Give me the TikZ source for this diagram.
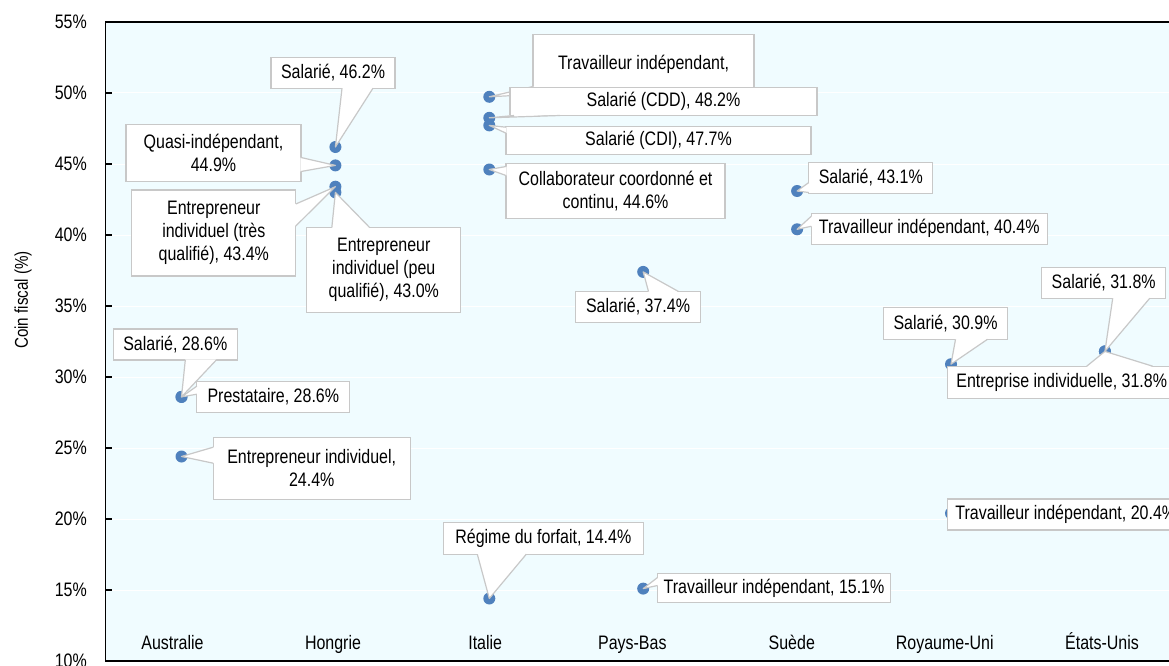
\documentclass[tikz,border=0pt]{standalone}
\usepackage{fontspec}
\setmainfont[FakeStretch=0.82]{Liberation Sans}
\usepackage{tikz}

\definecolor{plotbg}{RGB}{240,252,255}
\definecolor{dotblue}{RGB}{79,129,189}
\definecolor{boxgray}{RGB}{200,200,200}

% callout wedge: box, dot, anchor, shift a, shift b, inward shift
\newcommand{\callout}[6]{%
  \fill[white] ([shift={(#4)},shift={(#6)}]#1.#3) -- (#2.center) -- ([shift={(#5)},shift={(#6)}]#1.#3) -- cycle;
  \draw[lead] ([shift={(#4)}]#1.#3) -- (#2.center) -- ([shift={(#5)}]#1.#3);}

\begin{document}
\begin{tikzpicture}[x=1pt,y=-1pt,
  lbl/.style={draw=boxgray, fill=white, line width=1.2pt, inner sep=0pt, outer sep=0pt, align=center, font=\fontsize{19.5}{23}\selectfont},
  obs/.style={circle, fill=dotblue, minimum size=12pt, inner sep=0pt},
  lead/.style={boxgray, line width=1.2pt, line join=round},
  ticklbl/.style={anchor=east, inner sep=0pt, font=\fontsize{19.5}{23}\selectfont},
  catlbl/.style={anchor=base, inner sep=0pt, font=\fontsize{19.5}{23}\selectfont}]
  \clip (0,0) rectangle (1169,666);
  \fill[white] (0,0) rectangle (1169,666);
  \fill[plotbg] (105.5,22) rectangle (1182,661);

  \foreach \v in {15,20,...,50}
    \draw[white, line width=1pt] (105.5,{22+(55-\v)*14.2}) -- (1182,{22+(55-\v)*14.2});
  \foreach \v in {10,15,...,55} {
    \draw[black, line width=1.2pt] (105.5,{22+(55-\v)*14.2}) -- (112,{22+(55-\v)*14.2});
    \node[ticklbl] (tk\v) at (87,{22+(55-\v)*14.2}) {\v\%};
  }
  \draw[black, line width=1.5pt] (105.5,22) rectangle (1182,661);

  \foreach \x/\c [count=\i] in {172.5/Australie, 333/Hongrie, 485.2/Italie, 632.3/Pays-Bas, 791.8/Suède, 944.7/Royaume-Uni, 1102/États-Unis}
    \node[catlbl] (cat\i) at (\x,649) {\c};
  \node[rotate=90, inner sep=0pt, font=\fontsize{18.5}{22}\selectfont] (ytitle) at (23,300) {Coin fiscal (\%)};

  % points
  \node[obs] (da1) at (181.5,396.9) {};
  \node[obs] (da2) at (181.5,396.9) {};
  \node[obs] (da3) at (181.5,456.5) {};
  \node[obs] (dh1) at (335.4,147.0) {};
  \node[obs] (dh2) at (335.4,165.4) {};
  \node[obs] (dh3) at (335.4,186.7) {};
  \node[obs] (dh4) at (335.4,192.4) {};
  \node[obs] (di1) at (489.3,96.8) {};
  \node[obs] (di2) at (489.3,117.8) {};
  \node[obs] (di3) at (489.3,125.4) {};
  \node[obs] (di4) at (489.3,169.5) {};
  \node[obs] (di5) at (489.3,598.5) {};
  \node[obs] (dp1) at (643.2,271.9) {};
  \node[obs] (dp2) at (643.2,588.6) {};
  \node[obs] (ds1) at (797.1,191.0) {};
  \node[obs] (ds2) at (797.1,229.3) {};
  \node[obs] (dr1) at (951.0,364.2) {};
  \node[obs] (dr2) at (951.0,513.3) {};
  \node[obs] (du1) at (1104.9,351.4) {};
  \node[obs] (du2) at (1104.9,351.4) {};

  % labels
  \node[lbl, minimum width=124pt, minimum height=31pt] (la1) at (175.3,344.5) {Salarié, 28.6\%};
  \callout{la1}{da1}{south west}{72,0}{103,0}{0,-0.7}
  \node[lbl, minimum width=153pt, minimum height=31pt] (la2) at (273.3,396.7) {Prestataire, 28.6\%};
  \callout{la2}{da2}{north west}{0,5}{0,13}{0.7,0}
  \node[lbl, minimum width=197pt, minimum height=62pt] (la3) at (311.7,468.2) {Entrepreneur individuel,\\24.4\%};
  \callout{la3}{da3}{north west}{0,10}{0,26}{0.7,0}

  \node[lbl, minimum width=124pt, minimum height=31pt] (lh1) at (333,72.7) {Salarié, 46.2\%};
  \callout{lh1}{dh1}{south west}{71,0}{102,0}{0,-0.7}
  \node[lbl, minimum width=175pt, minimum height=57pt] (lh2) at (213.5,153) {Quasi-indépendant,\\44.9\%};
  \callout{lh2}{dh2}{north east}{0,33}{0,47}{-0.7,0}
  \node[lbl, minimum width=164pt, minimum height=86pt] (lh3) at (213.8,233) {Entrepreneur\\individuel (très\\qualifié), 43.4\%};
  \callout{lh3}{dh3}{north east}{0,14}{0,36}{-0.7,0}
  \node[lbl, minimum width=154pt, minimum height=85pt] (lh4) at (383.8,270.2) {Entrepreneur\\individuel (peu\\qualifié), 43.0\%};
  \callout{lh4}{dh4}{north west}{25,0}{63,0}{0,0.7}

  \node[lbl, minimum width=221pt, minimum height=78pt] (li1) at (643.5,73.5) {Travailleur indépendant,\\\mbox{}};
  \callout{li1}{di1}{north west}{0,52}{0,60}{0.7,0}
  \node[lbl, minimum width=307pt, minimum height=28pt] (li2) at (663.5,101.5) {Salarié (CDD), 48.2\%};
  \callout{li2}{di2}{south west}{4,0}{50,0}{0,-0.7}
  \node[lbl, minimum width=305pt, minimum height=28pt] (li3) at (658.5,140.2) {Salarié (CDI), 47.7\%};
  \callout{li3}{di3}{north west}{0,1}{0,7}{0.7,0}
  \node[lbl, minimum width=219pt, minimum height=55pt] (li4) at (615.5,191) {Collaborateur coordonné et\\continu, 44.6\%};
  \callout{li4}{di4}{north west}{0,3}{0,12}{0.7,0}
  \node[lbl, minimum width=200pt, minimum height=32pt] (li5) at (543.3,538.2) {Régime du forfait, 14.4\%};
  \callout{li5}{di5}{south west}{34,0}{83,0}{0,-0.7}

  \node[lbl, minimum width=125pt, minimum height=31pt] (lp1) at (638,307) {Salarié, 37.4\%};
  \callout{lp1}{dp1}{north west}{73,0}{103,0}{0,0.7}
  \node[lbl, minimum width=233pt, minimum height=29pt] (lp2) at (774,588) {Travailleur indépendant, 15.1\%};
  \callout{lp2}{dp2}{north west}{0,4}{0,12}{0.7,0}

  \node[lbl, minimum width=124pt, minimum height=31pt] (ls1) at (870.8,178) {Salarié, 43.1\%};
  \callout{ls1}{ds1}{north west}{0,20}{0,30}{0.7,0}
  \node[lbl, minimum width=236pt, minimum height=31pt] (ls2) at (929.2,228.8) {Travailleur indépendant, 40.4\%};
  \callout{ls2}{ds2}{north west}{0,3}{0,13}{0.7,0}

  \node[lbl, minimum width=124pt, minimum height=32pt] (lr1) at (945.5,323.3) {Salarié, 30.9\%};
  \callout{lr1}{dr1}{south west}{72,0}{104,0}{0,-0.7}
  \node[lbl, minimum width=236pt, minimum height=31pt] (lr2) at (1065.8,514.5) {Travailleur indépendant, 20.4\%};

  \node[lbl, minimum width=124pt, minimum height=31pt] (lu1) at (1103.7,282.8) {Salarié, 31.8\%};
  \callout{lu1}{du1}{south west}{71,0}{108,0}{0,-0.7}
  \node[lbl, minimum width=228pt, minimum height=32pt] (lu2) at (1061.7,382.2) {Entreprise individuelle, 31.8\%};
  \callout{lu2}{du2}{north west}{139,0}{205,0}{0,0.7}
\end{tikzpicture}
\end{document}
